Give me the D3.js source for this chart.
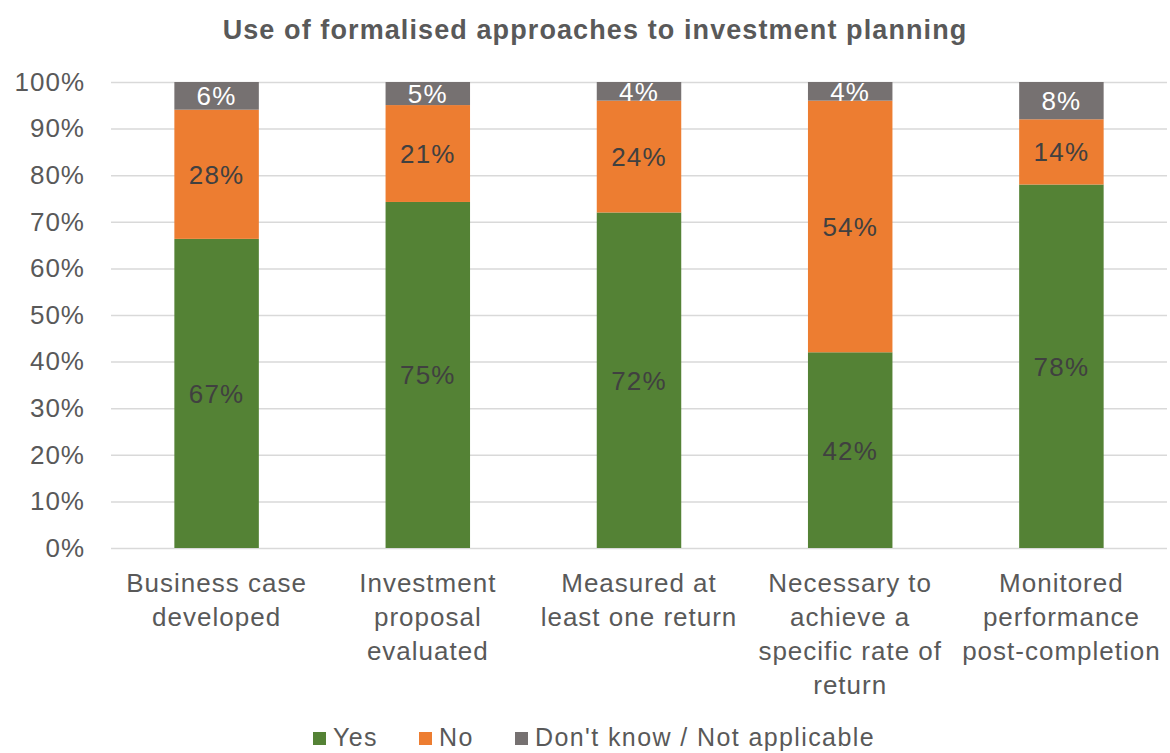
<!DOCTYPE html>
<html>
<head>
<meta charset="utf-8">
<script src="https://cdn.jsdelivr.net/npm/d3@7"></script>
<style>
  html, body { margin: 0; padding: 0; background: #ffffff; }
  svg { display: block; }
  text { font-family: "Liberation Sans", Arial, sans-serif; }
</style>
</head>
<body>
<svg id="chart" width="1170" height="753"></svg>
<script>
// Survey responses by planning approach (percent of respondents)
const categories = [
  ["Business case", "developed"],
  ["Investment", "proposal", "evaluated"],
  ["Measured at", "least one return"],
  ["Necessary to", "achieve a", "specific rate of", "return"],
  ["Monitored", "performance", "post-completion"]
];
const seriesNames = ["Yes", "No", "Don't know / Not applicable"];
const yesValues = [67, 75, 72, 42, 78];
const noValues = [28, 21, 24, 54, 14];
const dkValues = [6, 5, 4, 4, 8];
const yTicks = [0, 0.1, 0.2, 0.3, 0.4, 0.5, 0.6, 0.7, 0.8, 0.9, 1.0];
const chartTitle = "Use of formalised approaches to investment planning";

const colors = ["#548235", "#ED7D31", "#767171"];
const labelColors = ["#404040", "#404040", "#ffffff"];
const textColor = "#595959";

const rows = categories.map((c, i) => ({
  key: i,
  [seriesNames[0]]: yesValues[i],
  [seriesNames[1]]: noValues[i],
  [seriesNames[2]]: dkValues[i]
}));

const svg = d3.select("#chart");

const x = d3.scaleBand()
  .domain(rows.map(d => d.key))
  .range([111, 1167])
  .paddingInner(0.6)
  .paddingOuter(0.3);

const y = d3.scaleLinear().domain([0, 1]).range([548, 82]);

// 100% stacked layout
const stacked = d3.stack()
  .keys(seriesNames)
  .offset(d3.stackOffsetExpand)(rows);

// Gridlines and y tick labels
const yAxis = d3.axisLeft(y)
  .tickValues(yTicks)
  .tickSize(-(1167 - 111))
  .tickPadding(26)
  .tickFormat(d3.format(".0%"));

const gAxis = svg.append("g")
  .attr("transform", "translate(111,0)")
  .call(yAxis);
gAxis.select(".domain").remove();
gAxis.selectAll(".tick line")
  .attr("stroke", "#d9d9d9")
  .attr("stroke-width", 1.5);
gAxis.selectAll(".tick text")
  .attr("fill", textColor)
  .attr("font-size", 26)
  .attr("letter-spacing", 1)
  .attr("font-family", "Liberation Sans, Arial, sans-serif");

// Bars
const layer = svg.append("g")
  .selectAll("g")
  .data(stacked)
  .join("g")
  .attr("fill", (d, i) => colors[i]);

layer.selectAll("rect")
  .data(d => d)
  .join("rect")
  .attr("x", d => x(d.data.key))
  .attr("width", x.bandwidth())
  .attr("y", d => y(d[1]))
  .attr("height", d => y(d[0]) - y(d[1]));

// Segment value labels
const labelLayer = svg.append("g")
  .selectAll("g")
  .data(stacked)
  .join("g")
  .attr("fill", (d, i) => labelColors[i]);

labelLayer.selectAll("text")
  .data(d => d.map(p => ({ p, key: d.key })))
  .join("text")
  .attr("x", d => x(d.p.data.key) + x.bandwidth() / 2)
  .attr("y", d => (y(d.p[0]) + y(d.p[1])) / 2)
  .attr("dy", "0.36em")
  .attr("text-anchor", "middle")
  .attr("font-size", 26)
  .attr("letter-spacing", 1.2)
  .text(d => d.p.data[d.key] + "%");

// Category labels
const catG = svg.append("g")
  .selectAll("text")
  .data(rows)
  .join("text")
  .attr("x", d => x(d.key) + x.bandwidth() / 2)
  .attr("y", 592)
  .attr("text-anchor", "middle")
  .attr("fill", textColor)
  .attr("font-size", 26)
  .attr("letter-spacing", 1);

catG.selectAll("tspan")
  .data(d => categories[d.key])
  .join("tspan")
  .attr("x", function () { return d3.select(this.parentNode).attr("x"); })
  .attr("dy", (d, i) => i === 0 ? 0 : 34)
  .text(d => d);

// Title
svg.append("text")
  .attr("x", 595)
  .attr("y", 39)
  .attr("text-anchor", "middle")
  .attr("fill", textColor)
  .attr("font-size", 27)
  .attr("font-weight", "bold")
  .attr("letter-spacing", 1.1)
  .text(chartTitle);

// Legend
const legendX = [313, 419, 515];
const legend = svg.append("g")
  .selectAll("g")
  .data(seriesNames)
  .join("g")
  .attr("transform", (d, i) => `translate(${legendX[i]},0)`);

legend.append("rect")
  .attr("x", 0)
  .attr("y", 732)
  .attr("width", 13)
  .attr("height", 13)
  .attr("fill", (d, i) => colors[i]);

legend.append("text")
  .attr("x", 20)
  .attr("y", 746)
  .attr("fill", textColor)
  .attr("font-size", 25)
  .attr("letter-spacing", 1.4)
  .text(d => d);
</script>
</body>
</html>
